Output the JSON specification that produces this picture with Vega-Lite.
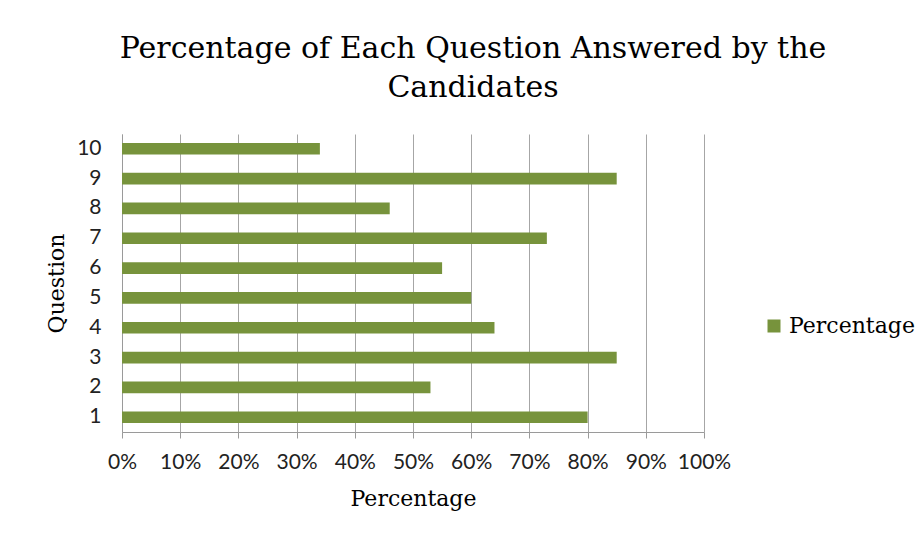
{
  "$schema": "https://vega.github.io/schema/vega-lite/v6.json",
  "width": 582,
  "height": 298,
  "autosize": {"type": "none"},
  "padding": {"left": 122, "top": 134, "right": 220, "bottom": 103},
  "background": "white",
  "title": {
    "text": ["Percentage of Each Question Answered by the", "Candidates"],
    "font": "DejaVu Serif",
    "fontSize": 30,
    "fontWeight": "normal",
    "color": "#000000",
    "anchor": "middle",
    "frame": "group",
    "dx": 60,
    "offset": 31,
    "lineHeight": 39
  },
  "data": {
    "values": [
      {"Question": 1, "Percentage": 0.80},
      {"Question": 2, "Percentage": 0.53},
      {"Question": 3, "Percentage": 0.85},
      {"Question": 4, "Percentage": 0.64},
      {"Question": 5, "Percentage": 0.60},
      {"Question": 6, "Percentage": 0.55},
      {"Question": 7, "Percentage": 0.73},
      {"Question": 8, "Percentage": 0.46},
      {"Question": 9, "Percentage": 0.85},
      {"Question": 10, "Percentage": 0.34}
    ]
  },
  "mark": {"type": "bar"},
  "encoding": {
    "y": {
      "field": "Question",
      "type": "ordinal",
      "sort": "descending",
      "scale": {"paddingInner": 0.61, "paddingOuter": 0.3},
      "axis": {
        "title": "Question",
        "titleFont": "DejaVu Serif",
        "titleFontSize": 22,
        "titleFontWeight": "normal",
        "titleColor": "#000000",
        "titlePadding": 8,
        "labelFont": "Lato",
        "labelFontSize": 21,
        "labelColor": "#222222",
        "labelPadding": 21,
        "labelAngle": 0,
        "ticks": false,
        "grid": false,
        "domainColor": "#9a9a9a",
        "domainWidth": 1
      }
    },
    "x": {
      "field": "Percentage",
      "type": "quantitative",
      "scale": {"domain": [0, 1], "nice": false},
      "axis": {
        "title": "Percentage",
        "titleFont": "DejaVu Serif",
        "titleFontSize": 22,
        "titleFontWeight": "normal",
        "titleColor": "#000000",
        "titlePadding": 16,
        "format": "%",
        "values": [0, 0.1, 0.2, 0.3, 0.4, 0.5, 0.6, 0.7, 0.8, 0.9, 1],
        "labelFont": "Lato",
        "labelFontSize": 21,
        "labelColor": "#222222",
        "labelPadding": 13,
        "labelFlush": false,
        "labelOverlap": false,
        "tickSize": 6,
        "tickColor": "#9a9a9a",
        "domainColor": "#9a9a9a",
        "grid": true,
        "gridColor": "#a6a6a6",
        "gridWidth": 1
      }
    },
    "color": {
      "datum": "Percentage",
      "type": "nominal",
      "scale": {"range": ["#77933C"]},
      "legend": {
        "title": null,
        "orient": "none",
        "legendX": 641,
        "legendY": 181,
        "symbolType": "square",
        "symbolSize": 169,
        "symbolStrokeWidth": 0,
        "labelFont": "DejaVu Serif",
        "labelFontSize": 22,
        "labelColor": "#000000",
        "labelOffset": 4
      }
    }
  },
  "config": {
    "view": {"stroke": null}
  }
}
